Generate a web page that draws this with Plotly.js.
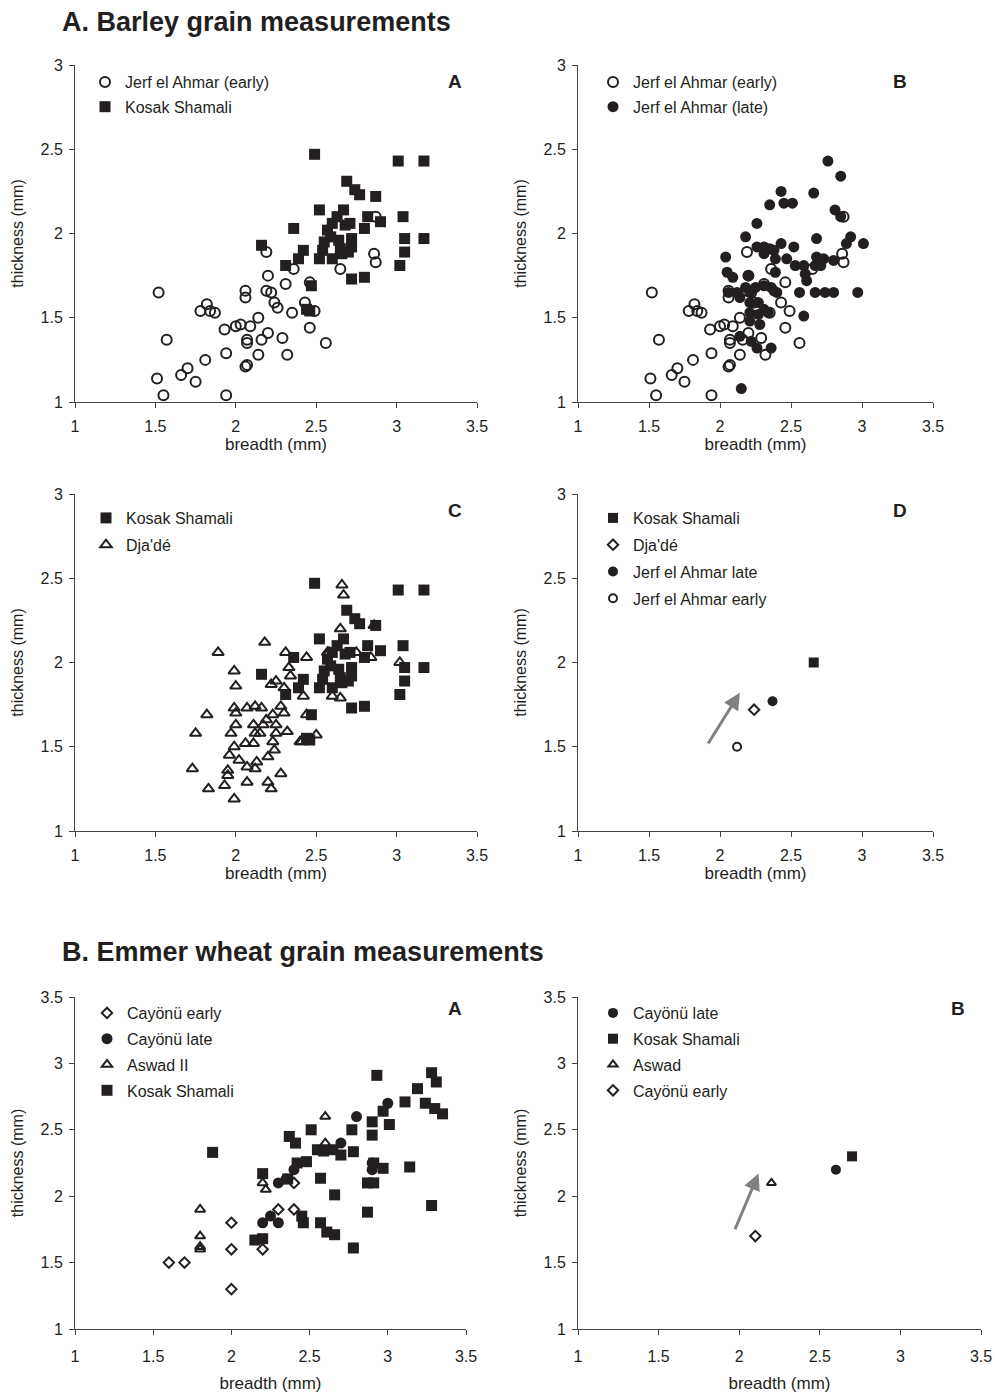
<!DOCTYPE html>
<html><head><meta charset="utf-8">
<script src="https://cdn.plot.ly/plotly-3.0.1.min.js"></script>
<style>html,body{margin:0;padding:0;background:#fff}#chart{width:995px;height:1396px}</style>
</head><body><div id="chart"></div>
<script>
// ---------- DATA (breadth mm, thickness mm) ----------
const jerfEarly = [[1.52,1.65],[1.57,1.37],[1.51,1.14],[1.55,1.04],[1.66,1.16],[1.70,1.20],[1.75,1.12],[1.81,1.25],[1.82,1.58],[1.78,1.54],[1.84,1.54],[1.87,1.53],[1.93,1.43],[1.94,1.04],[1.94,1.29],[2.00,1.45],[2.03,1.46],[2.06,1.66],[2.06,1.62],[2.07,1.37],[2.07,1.35],[2.06,1.21],[2.07,1.22],[2.09,1.45],[2.14,1.50],[2.16,1.37],[2.14,1.28],[2.20,1.41],[2.19,1.89],[2.20,1.75],[2.19,1.66],[2.22,1.65],[2.24,1.59],[2.26,1.56],[2.29,1.38],[2.32,1.28],[2.31,1.70],[2.36,1.79],[2.35,1.53],[2.43,1.59],[2.46,1.44],[2.46,1.71],[2.49,1.54],[2.56,1.35],[2.65,1.79],[2.86,1.88],[2.87,1.83],[2.87,2.10]];
const kosakBarley = [[2.49,2.47],[3.01,2.43],[3.17,2.43],[2.69,2.31],[2.74,2.26],[2.77,2.23],[2.87,2.22],[2.52,2.14],[2.67,2.14],[2.63,2.10],[2.71,2.06],[2.82,2.10],[2.90,2.07],[2.80,2.03],[3.04,2.10],[3.05,1.97],[3.17,1.97],[3.05,1.89],[3.02,1.81],[2.72,1.73],[2.80,1.74],[2.36,2.03],[2.57,2.02],[2.59,1.98],[2.64,1.96],[2.72,1.97],[2.72,1.92],[2.65,1.91],[2.54,1.90],[2.52,1.85],[2.42,1.90],[2.39,1.85],[2.60,1.85],[2.66,1.88],[2.70,1.89],[2.47,1.69],[2.44,1.55],[2.46,1.54],[2.16,1.93],[2.31,1.81],[2.60,2.06],[2.68,2.05],[2.55,1.95]];
const jerfLate = [[2.43,2.25],[2.35,2.17],[2.45,2.18],[2.26,2.06],[2.18,1.98],[2.04,1.86],[2.05,1.77],[2.09,1.74],[2.20,1.75],[2.26,1.92],[2.31,1.92],[2.35,1.91],[2.31,1.88],[2.43,1.94],[2.39,1.85],[2.47,1.85],[2.39,1.77],[2.06,1.65],[2.12,1.65],[2.18,1.68],[2.21,1.65],[2.14,1.62],[2.25,1.68],[2.31,1.69],[2.36,1.68],[2.40,1.65],[2.21,1.59],[2.27,1.59],[2.31,1.55],[2.21,1.53],[2.27,1.52],[2.21,1.48],[2.28,1.46],[2.34,1.53],[2.14,1.39],[2.22,1.36],[2.26,1.32],[2.36,1.32],[2.15,1.08],[2.76,2.43],[2.85,2.34],[2.51,2.18],[2.66,2.24],[2.81,2.14],[2.85,2.10],[2.68,1.97],[2.92,1.98],[2.89,1.94],[3.01,1.94],[2.52,1.92],[2.38,1.90],[2.53,1.81],[2.59,1.81],[2.60,1.76],[2.61,1.72],[2.68,1.86],[2.73,1.85],[2.80,1.84],[2.67,1.81],[2.71,1.81],[2.56,1.65],[2.67,1.65],[2.74,1.65],[2.80,1.65],[2.97,1.65],[2.59,1.51],[2.38,1.66]];
const djade = [[1.89,2.06],[2.18,2.12],[1.99,1.95],[2.00,1.86],[1.82,1.69],[1.99,1.73],[2.00,1.70],[2.07,1.73],[2.12,1.74],[2.16,1.73],[1.75,1.58],[2.00,1.63],[1.97,1.58],[2.11,1.63],[2.12,1.58],[2.15,1.58],[2.17,1.63],[2.19,1.66],[2.25,1.63],[2.25,1.58],[2.32,1.59],[2.23,1.53],[2.24,1.48],[2.20,1.44],[1.99,1.50],[2.06,1.52],[2.11,1.52],[1.96,1.45],[2.02,1.42],[2.07,1.38],[2.13,1.41],[2.12,1.37],[1.73,1.37],[1.95,1.36],[1.95,1.33],[1.93,1.27],[1.83,1.25],[2.07,1.29],[2.20,1.29],[2.22,1.25],[2.28,1.34],[1.99,1.19],[2.22,1.87],[2.25,1.89],[2.30,1.85],[2.28,1.74],[2.30,1.70],[2.23,1.69],[2.31,2.06],[2.44,2.03],[2.33,1.97],[2.34,1.92],[2.42,1.80],[2.44,1.69],[2.40,1.53],[2.50,1.57],[2.58,2.06],[2.66,2.46],[2.67,2.40],[2.65,2.20],[2.86,2.22],[2.57,2.06],[2.75,2.06],[2.84,2.03],[3.02,2.00],[2.60,1.80],[2.65,1.79],[2.41,1.53]];
// Panel D means
const meanKosakBarley = [[2.66,2.00]];
const meanDjade = [[2.24,1.72]];
const meanJerfLate = [[2.37,1.77]];
const meanJerfEarly = [[2.12,1.50]];
const arrowBarley = {tail:[1.91,1.51], head:[2.14,1.82]};
// Emmer wheat
const cayonuEarly = [[1.6,1.5],[1.7,1.5],[2.0,1.8],[2.0,1.6],[2.0,1.3],[2.2,1.6],[2.3,1.9],[2.4,1.9],[2.4,2.1]];
const cayonuLate = [[2.2,1.8],[2.25,1.85],[2.3,1.8],[2.3,2.1],[2.35,2.13],[2.4,2.2],[2.7,2.4],[2.8,2.6],[2.9,2.2],[2.9,2.25],[3.0,2.7]];
const aswadII = [[1.8,1.9],[1.8,1.7],[1.8,1.6],[1.8,1.62],[2.2,2.1],[2.22,2.05],[2.6,2.6],[2.6,2.4]];
const kosakEmmer = [[1.88,2.33],[2.2,2.17],[2.15,1.67],[2.2,1.68],[2.37,2.45],[2.41,2.4],[2.42,2.25],[2.48,2.26],[2.36,2.13],[2.57,2.135],[2.66,2.01],[2.87,1.88],[2.78,1.61],[2.57,1.8],[2.61,1.73],[2.66,1.71],[2.45,1.85],[2.46,1.8],[2.93,2.91],[3.28,2.93],[3.31,2.86],[3.19,2.81],[3.11,2.71],[3.24,2.7],[3.3,2.66],[3.35,2.62],[2.97,2.64],[3.01,2.54],[2.9,2.56],[2.9,2.46],[2.51,2.5],[2.77,2.5],[2.55,2.35],[2.59,2.34],[2.65,2.35],[2.7,2.31],[2.78,2.335],[2.91,2.25],[2.97,2.21],[3.14,2.22],[2.87,2.1],[2.91,2.1],[3.28,1.93]];
const meanCayonuLate = [[2.6,2.2]];
const meanKosakEmmer = [[2.7,2.3]];
const meanAswad = [[2.2,2.1]];
const meanCayonuEarly = [[2.1,1.7]];
const arrowEmmer = {tail:[1.97,1.74], head:[2.12,2.17]};

// ---------- STYLE ----------
const INK = '#231f20';
const FONT = 'Liberation Sans, Arial, Helvetica, sans-serif';
const W = 995, H = 1396;
const px = v => v / W, py = v => 1 - v / H;

function tr(data, name, symbol, size, n, legend, rank) {
  const open = symbol.indexOf('open') >= 0;
  return {
    type: 'scatter', mode: 'markers', name: name,
    x: data.map(p => p[0]), y: data.map(p => p[1]),
    xaxis: 'x' + (n === 1 ? '' : n), yaxis: 'y' + (n === 1 ? '' : n),
    legend: legend, legendrank: rank, legendgroup: legend + '_' + rank, cliponaxis: false,
    marker: {symbol: symbol, size: size, color: INK,
      line: {width: open ? 2 : 0, color: INK}},
    hoverinfo: 'x+y+name'
  };
}

const traces = [
  tr(kosakBarley, 'Kosak Shamali', 'square', 11, 1, 'legend', 2),
  tr(jerfEarly, 'Jerf el Ahmar (early)', 'circle-open', 10, 1, 'legend', 1),
  tr(jerfLate, 'Jerf el Ahmar (late)', 'circle', 11, 2, 'legend2', 2),
  tr(jerfEarly, 'Jerf el Ahmar (early)', 'circle-open', 10, 2, 'legend2', 1),
  tr(djade, "Dja'dé", 'triangle-up-open', 10, 3, 'legend3', 2),
  tr(kosakBarley, 'Kosak Shamali', 'square', 11, 3, 'legend3', 1),
  tr(meanKosakBarley, 'Kosak Shamali', 'square', 10, 4, 'legend4', 1),
  tr(meanDjade, "Dja'dé", 'diamond-open', 8, 4, 'legend4', 2),
  tr(meanJerfLate, 'Jerf el Ahmar late', 'circle', 10, 4, 'legend4', 3),
  tr(meanJerfEarly, 'Jerf el Ahmar early', 'circle-open', 8, 4, 'legend4', 4),
  tr(kosakEmmer, 'Kosak Shamali', 'square', 11, 5, 'legend5', 4),
  tr(cayonuLate, 'Cayönü late', 'circle', 11, 5, 'legend5', 2),
  tr(aswadII, 'Aswad II', 'triangle-up-open', 9, 5, 'legend5', 3),
  tr(cayonuEarly, 'Cayönü early', 'diamond-open', 8, 5, 'legend5', 1),
  tr(meanCayonuLate, 'Cayönü late', 'circle', 10, 6, 'legend6', 1),
  tr(meanKosakEmmer, 'Kosak Shamali', 'square', 10, 6, 'legend6', 2),
  tr(meanAswad, 'Aswad', 'triangle-up-open', 8, 6, 'legend6', 3),
  tr(meanCayonuEarly, 'Cayönü early', 'diamond-open', 8, 6, 'legend6', 4)
];

function axisBase(range, title, standoff, labelStandoff, titleSize) {
  return {range: range, dtick: 0.5, tick0: 1,
    showgrid: false, zeroline: false, showline: true, linecolor: '#444', linewidth: 1,
    ticks: 'outside', ticklen: 5, tickcolor: '#444', ticklabelstandoff: labelStandoff,
    tickfont: {size: 16, color: INK, family: FONT},
    title: {text: title, font: {size: titleSize, color: INK, family: FONT}, standoff: standoff}};
}
function xax(d, anchor, range, so, lso) { return Object.assign(axisBase(range, 'breadth (mm)', so, lso, 17), {domain: d, anchor: anchor}); }
function yax(d, anchor, range) { return Object.assign(axisBase(range, 'thickness (mm)', 12, 3, 16), {domain: d, anchor: anchor}); }

const XL = [px(75), px(477)], XR = [px(578), px(933)];
const XL5 = [px(75), px(466)], XR6 = [px(578), px(981)];
const YT = [py(402), py(65)], YM = [py(831), py(494)], YB = [py(1329), py(997)];

function leg(left, top, gap) {
  return {x: px(left), y: py(top), xanchor: 'left', yanchor: 'top',
    bgcolor: 'rgba(0,0,0,0)', font: {size: 16, color: INK, family: FONT},
    tracegroupgap: gap, itemclick: false, itemdoubleclick: false};
}

function letter(text, x, y) {
  return {text: '<b>' + text + '</b>', xref: 'paper', yref: 'paper', x: px(x), y: py(y),
    xanchor: 'center', yanchor: 'middle', showarrow: false,
    font: {size: 19, color: INK, family: FONT}};
}
function heading(text, x, y) {
  return {text: '<b>' + text + '</b>', xref: 'paper', yref: 'paper', x: px(x), y: py(y),
    xanchor: 'left', yanchor: 'middle', showarrow: false,
    font: {size: 27, color: INK, family: FONT}};
}
function arrow(a, n) {
  return {xref: 'x' + n, yref: 'y' + n, axref: 'x' + n, ayref: 'y' + n,
    x: a.head[0], y: a.head[1], ax: a.tail[0], ay: a.tail[1], text: '',
    showarrow: true, arrowhead: 2, arrowsize: 1.1, arrowwidth: 3, arrowcolor: '#808080', standoff: 0};
}

const layout = {
  width: W, height: H, margin: {l: 0, r: 0, t: 0, b: 0},
  paper_bgcolor: '#fff', plot_bgcolor: '#fff',
  font: {family: FONT, color: INK},
  showlegend: true, hovermode: 'closest',
  xaxis: xax(XL, 'y', [1, 3.5], 1, 5), yaxis: yax(YT, 'x', [1, 3]),
  xaxis2: xax(XR, 'y2', [1, 3.5], 1, 5), yaxis2: yax(YT, 'x2', [1, 3]),
  xaxis3: xax(XL, 'y3', [1, 3.5], 1, 5), yaxis3: yax(YM, 'x3', [1, 3]),
  xaxis4: xax(XR, 'y4', [1, 3.5], 1, 5), yaxis4: yax(YM, 'x4', [1, 3]),
  xaxis5: xax(XL5, 'y5', [1, 3.5], 12, 8), yaxis5: yax(YB, 'x5', [1, 3.5]),
  xaxis6: xax(XR6, 'y6', [1, 3.5], 12, 8), yaxis6: yax(YB, 'x6', [1, 3.5]),
  legend: leg(85, 65, 1), legend2: leg(593, 65, 1),
  legend3: leg(86, 501, 3), legend4: leg(593, 501, 3),
  legend5: leg(87, 996, 2), legend6: leg(593, 996, 2),
  annotations: [
    heading('A. Barley grain measurements', 60, 22),
    heading('B. Emmer wheat grain measurements', 60, 952),
    letter('A', 455, 82), letter('B', 900, 82), letter('C', 455, 510), letter('D', 900, 510),
    letter('A', 455, 1008), letter('B', 958, 1008),
    arrow(arrowBarley, 4), arrow(arrowEmmer, 6)
  ]
};

Plotly.newPlot('chart', traces, layout, {staticPlot: true, displayModeBar: false});
</script></body></html>
